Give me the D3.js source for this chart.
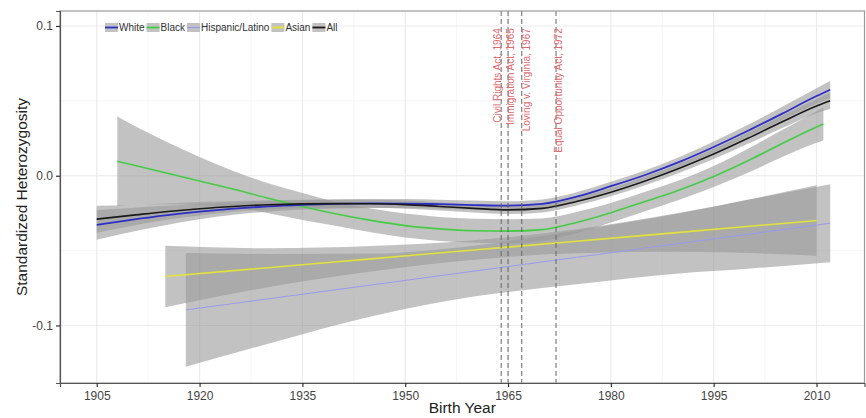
<!DOCTYPE html>
<html><head><meta charset="utf-8">
<script src="https://cdn.jsdelivr.net/npm/d3@7"></script>
<style>
html,body{margin:0;padding:0;background:#fff;}
text{font-family:"Liberation Sans",Arial,Helvetica,sans-serif;}
</style></head>
<body><svg id="chart" width="866" height="418"></svg>
<script>
// ---- data ----
const xTicks = [1905, 1920, 1935, 1950, 1965, 1980, 1995, 2010];
const yTicks = [-0.1, 0.0, 0.1];
const yTickLabels = ["-0.1", "0.0", "0.1"];

const seriesNames = ["White", "Black", "Hispanic/Latino", "Asian", "All"];
const seriesColors = ["#2e2ec8", "#44cc44", "#9a9af0", "#e2e23c", "#1a1a1a"];
const seriesWidths = [1.8, 1.6, 1.0, 1.6, 1.6];

const whiteYears = [1905,1910,1915,1920,1925,1930,1935,1940,1945,1950,1955,1960,1965,1970,1975,1980,1985,1990,1995,2000,2005,2010,2012];
const whiteVals = [-0.0328,-0.0295,-0.0265,-0.0240,-0.0220,-0.0205,-0.0195,-0.0188,-0.0185,-0.0186,-0.0190,-0.0196,-0.0200,-0.0188,-0.0140,-0.0070,0.0005,0.0092,0.0192,0.0300,0.0415,0.0532,0.0575];
const whiteHW = [0.010,0.008,0.0065,0.005,0.004,0.0035,0.003,0.003,0.003,0.003,0.003,0.003,0.003,0.003,0.003,0.003,0.003,0.0033,0.0037,0.004,0.0045,0.0052,0.0057];

const allYears = whiteYears;
const allVals = [-0.0290,-0.0265,-0.0240,-0.0220,-0.0205,-0.0194,-0.0188,-0.0186,-0.0187,-0.0193,-0.0205,-0.0218,-0.0228,-0.0218,-0.0172,-0.0110,-0.0035,0.0050,0.0145,0.0250,0.0360,0.0465,0.0500];
const allHW = [0.009,0.007,0.0055,0.0045,0.0035,0.003,0.0028,0.0027,0.0027,0.0027,0.0027,0.0027,0.0027,0.0027,0.0027,0.0027,0.0028,0.003,0.0033,0.0037,0.0042,0.0048,0.0055];

const blackYears = [1908,1910,1915,1920,1925,1930,1935,1940,1945,1950,1955,1960,1965,1970,1975,1980,1985,1990,1995,2000,2005,2010,2011];
const blackVals = [0.0096,0.0075,0.0020,-0.0035,-0.0090,-0.0150,-0.0205,-0.0255,-0.0298,-0.0333,-0.0355,-0.0367,-0.0370,-0.0360,-0.0312,-0.0247,-0.0172,-0.0095,-0.0005,0.0100,0.0215,0.0325,0.0346];
const blackHW = [0.030,0.027,0.021,0.016,0.012,0.010,0.009,0.008,0.008,0.008,0.008,0.008,0.008,0.0075,0.007,0.0065,0.0065,0.0065,0.007,0.008,0.009,0.0105,0.011];

const asianYears = [1915,1930,1945,1960,1975,1990,2010];
const asianVals = [-0.0673,-0.0614,-0.0555,-0.0496,-0.0437,-0.0378,-0.0299];
const asianHW = [0.0205,0.013,0.0085,0.0065,0.008,0.013,0.0235];

const hispYears = [1918,1930,1945,1960,1975,1990,2000,2012];
const hispVals = [-0.0896,-0.0822,-0.0730,-0.0637,-0.0545,-0.0452,-0.0391,-0.0317];
const hispHW = [0.038,0.030,0.021,0.017,0.018,0.020,0.023,0.026];

const eventYears = [1964, 1965, 1967, 1972];
const eventLabels = ["Civil Rights Act, 1964", "Immigration Act, 1965", "Loving v. Virginia, 1967", "Equal Opportunity Act, 1972"];
const eventLabelX = [1964.0, 1965.8, 1968.2, 1972.9];

// ---- layout ----
const svg = d3.select("#chart");
const L = 60, R = 864.5, T = 11, B = 383;
const x = d3.scaleLinear().domain([1899.64, 2017.0]).range([L, R]);
const y = d3.scaleLinear().domain([-0.1384, 0.1100]).range([B, T]);

// panel background + grid
svg.append("rect").attr("x", L).attr("y", T).attr("width", R - L).attr("height", B - T).attr("fill", "#fff");
const g = svg.append("g");
const xMinor = d3.range(xTicks.length - 1).map(i => (xTicks[i] + xTicks[i+1]) / 2).concat([2017.5]).filter(v => x(v) <= R);
const yMinor = [-0.05, 0.05];
g.selectAll(".xm").data(xMinor).join("line").attr("x1", d => x(d)).attr("x2", d => x(d)).attr("y1", T).attr("y2", B).attr("stroke", "#f4f4f4").attr("stroke-width", 0.8);
g.selectAll(".ym").data(yMinor).join("line").attr("x1", L).attr("x2", R).attr("y1", d => y(d)).attr("y2", d => y(d)).attr("stroke", "#f4f4f4").attr("stroke-width", 0.8);
g.selectAll(".xg").data(xTicks).join("line").attr("x1", d => x(d)).attr("x2", d => x(d)).attr("y1", T).attr("y2", B).attr("stroke", "#ebebeb").attr("stroke-width", 1.2);
g.selectAll(".yg").data(yTicks).join("line").attr("x1", L).attr("x2", R).attr("y1", d => y(d)).attr("y2", d => y(d)).attr("stroke", "#ebebeb").attr("stroke-width", 1.2);

// series layers
const defs = [
  {name: "Hispanic/Latino", idx: 2, ys: hispYears, v: hispVals, hw: hispHW},
  {name: "Asian", idx: 3, ys: asianYears, v: asianVals, hw: asianHW},
  {name: "Black", idx: 1, ys: blackYears, v: blackVals, hw: blackHW},
  {name: "White", idx: 0, ys: whiteYears, v: whiteVals, hw: whiteHW},
  {name: "All", idx: 4, ys: allYears, v: allVals, hw: allHW}
];
const clip = svg.append("clipPath").attr("id", "clip").append("rect").attr("x", L).attr("y", T).attr("width", R - L).attr("height", B - T);
const plot = svg.append("g").attr("clip-path", "url(#clip)");
const curve = d3.curveMonotoneX;
defs.forEach(s => {
  const pts = s.ys.map((yr, i) => ({yr, v: s.v[i], hw: s.hw[i]}));
  const area = d3.area().x(d => x(d.yr)).y0(d => y(d.v - d.hw)).y1(d => y(d.v + d.hw)).curve(curve);
  plot.append("path").datum(pts).attr("d", area).attr("fill", "#999").attr("fill-opacity", 0.6);
});
defs.forEach(s => {
  const pts = s.ys.map((yr, i) => ({yr, v: s.v[i]}));
  const line = d3.line().x(d => x(d.yr)).y(d => y(d.v)).curve(curve);
  plot.append("path").datum(pts).attr("d", line).attr("fill", "none")
    .attr("stroke", seriesColors[s.idx]).attr("stroke-width", seriesWidths[s.idx]);
});

// event lines + labels
plot.selectAll(".ev").data(eventYears).join("line")
  .attr("x1", d => x(d)).attr("x2", d => x(d)).attr("y1", T).attr("y2", B)
  .attr("stroke", "#666").attr("stroke-width", 1).attr("stroke-dasharray", "5,3");
plot.selectAll(".evt").data(eventLabels).join("text")
  .attr("transform", (d, i) => `translate(${x(eventLabelX[i])},${y(0.0985)}) rotate(-90)`)
  .attr("text-anchor", "end").attr("font-size", 10).attr("fill", "#de6b70").text(d => d);

// panel border
svg.append("rect").attr("x", L).attr("y", T).attr("width", R - L).attr("height", B - T)
  .attr("fill", "none").attr("stroke", "#9a9a9a").attr("stroke-width", 1.2);

// axes
const xAxis = svg.append("g").attr("transform", `translate(0,${B})`)
  .call(d3.axisBottom(x).tickValues(xTicks).tickFormat(d3.format("d")).tickSize(4).tickPadding(4));
const yAxis = svg.append("g").attr("transform", `translate(${L},0)`)
  .call(d3.axisLeft(y).tickValues(yTicks).tickFormat((d, i) => yTickLabels[i]).tickSize(4).tickPadding(3));
[xAxis, yAxis].forEach(a => {
  a.select(".domain").attr("stroke", "#555").attr("stroke-width", 1.2);
  a.selectAll(".tick line").attr("stroke", "#333").attr("stroke-width", 1.2);
  a.selectAll(".tick text").attr("fill", "#444").attr("font-size", 12).attr("font-family", "Liberation Sans, Arial, sans-serif");
});

// axis titles
svg.append("text").attr("x", (L + R) / 2).attr("y", 413).attr("text-anchor", "middle")
  .attr("font-size", 15.5).attr("fill", "#222").text("Birth Year");
svg.append("text").attr("transform", `translate(27,${(T + B) / 2}) rotate(-90)`).attr("text-anchor", "middle")
  .attr("font-size", 15.5).attr("fill", "#222").text("Standardized Heterozygosity");

// legend
const leg = svg.append("g");
let lx = 105;
const ly = 23;
seriesNames.forEach((nm, i) => {
  leg.append("rect").attr("x", lx).attr("y", ly).attr("width", 13).attr("height", 9).attr("fill", "#c2c2c2");
  leg.append("line").attr("x1", lx).attr("x2", lx + 13).attr("y1", ly + 4.5).attr("y2", ly + 4.5)
    .attr("stroke", seriesColors[i]).attr("stroke-width", i === 2 ? 1.2 : 1.8);
  const t = leg.append("text").attr("x", lx + 14).attr("y", ly + 8).attr("font-size", 10).attr("fill", "#333").text(nm);
  lx += 14 + t.node().getComputedTextLength() + 2;
});
</script>
</body></html>
